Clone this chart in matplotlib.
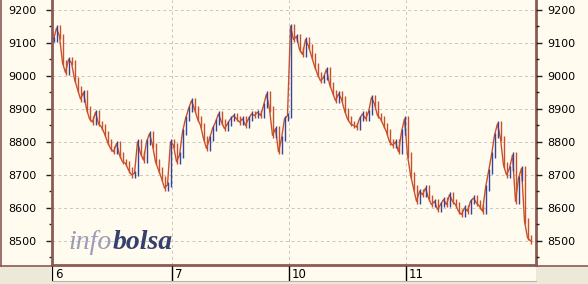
import numpy as np
import matplotlib.pyplot as plt
from matplotlib.patches import Rectangle

# closing prices, one list per session
day6 = [9110, 9145, 9120, 9040, 9010, 9050, 9040, 8990, 8960, 8930,
        8950, 8900, 8870, 8860, 8890, 8855, 8845, 8825, 8800, 8780,
        8770, 8795, 8760, 8740, 8735, 8715, 8700, 8705, 8800, 8765,
        8745, 8800, 8825, 8790, 8740, 8715, 8690, 8660, 8670, 8800]
day7 = [8790, 8740, 8760, 8830, 8870, 8900, 8925, 8900, 8870, 8850,
        8810, 8780, 8810, 8840, 8860, 8885, 8860, 8840, 8855, 8870,
        8880, 8870, 8860, 8870, 8850, 8870, 8885, 8880, 8890, 8880,
        8910, 8945, 8900, 8820, 8840, 8770, 8810, 8870, 8880]
day10 = [9150, 9110, 9120, 9080, 9065, 9110, 9090, 9060, 9030, 9005,
         8985, 8995, 9020, 8975, 8950, 8925, 8945, 8930, 8895, 8870,
         8855, 8850, 8845, 8870, 8885, 8870, 8890, 8935, 8915, 8880,
         8870, 8850, 8830, 8800, 8790, 8800, 8770, 8830, 8870]
day11 = [8760, 8700, 8660, 8620, 8650, 8640, 8660, 8630, 8610, 8620,
         8595, 8610, 8625, 8610, 8640, 8620, 8610, 8590, 8580, 8600,
         8590, 8620, 8630, 8615, 8605, 8590, 8660, 8710, 8760, 8820,
         8855, 8810, 8730, 8700, 8720, 8760, 8620, 8690, 8720, 8560,
         8510, 8500]
day_labels = ['6', '7', '10', '11']
y_ticks = [8500, 8600, 8700, 8800, 8900, 9000, 9100, 9200]

days = [day6, day7, day10, day11]
close = np.array(sum(days, []), dtype=float)
x = np.arange(len(close))
day_starts = np.cumsum([0] + [len(d) for d in days[:-1]]) - 0.5

W, H = 588, 284
cream = '#FFFBEF'
grey = '#ECE9D8'
brown = '#8C5A55'
blue = '#3B4394'
red = '#C8512B'

fig = plt.figure(figsize=(W / 100, H / 100), dpi=100, facecolor=grey)

# cream panels (left axis, right axis, date strip)
for (px, py, pw, ph) in [(0, 0, 52, 266), (536, 0, 52, 266), (52, 266, 484, 15)]:
    fig.patches.append(Rectangle((px / W, 1 - (py + ph) / H), pw / W, ph / H,
                                 transform=fig.transFigure, facecolor=cream,
                                 edgecolor='none', zorder=-5))
# panel borders
fig.add_artist(plt.Line2D([1.5 / W, 1.5 / W], [1 - 266 / H, 1], color=brown, lw=1.2))
fig.add_artist(plt.Line2D([0, 52 / W], [1 - 266 / H, 1 - 266 / H], color=brown, lw=1.2))
fig.add_artist(plt.Line2D([536 / W, 1], [1 - 266 / H, 1 - 266 / H], color=brown, lw=1.2))
fig.add_artist(plt.Line2D([52 / W, 536 / W], [1 - 281 / H, 1 - 281 / H], color='#B8B4A8', lw=0.8))

ax = fig.add_axes([52 / W, 1 - 265 / H, 484 / W, 265 / H])
ax.set_facecolor(cream)
ax.set_xlim(-0.5, 484 / 3 - 0.5)
ax.set_ylim(8427, 9230)

# grid
for yv in y_ticks:
    ax.axhline(yv, color='#C9C6BE', lw=0.7, ls=(0, (3, 3)), zorder=1)
for xs in day_starts[1:]:
    ax.axvline(xs, color='#C9C6BE', lw=0.7, ls=(0, (3, 3)), zorder=1)

# price path plus small bars from previous close, coloured by direction
ax.plot(x, close, color=red, lw=1.0, zorder=2)
prev = np.r_[close[0], close[:-1]]
up = close >= prev
ax.vlines(x[up] + 0.3, prev[up] - 8, close[up] + 8, color=blue, lw=1.0, zorder=3)
ax.vlines(x[~up] + 0.3, close[~up] - 8, prev[~up] + 8, color=red, lw=1.0, zorder=3)

for side in ['left', 'bottom', 'right']:
    ax.spines[side].set_color(brown)
    ax.spines[side].set_linewidth(2)
ax.spines['top'].set_visible(False)
ax.set_xticks([])
ax.set_yticks(y_ticks)
ax.set_yticks([v + 50 for v in y_ticks[:-1]] + [8450], minor=True)
ax.tick_params(axis='y', which='major', length=4, width=1, color='#222222',
               labelsize=8, pad=7)
ax.tick_params(axis='y', which='minor', length=2, width=1, color='#222222')

ax2 = ax.twinx()
ax2.set_ylim(ax.get_ylim())
ax2.set_yticks(y_ticks)
ax2.set_yticks([v + 50 for v in y_ticks[:-1]] + [8450], minor=True)
ax2.tick_params(axis='y', which='major', length=4, width=1, color='#222222',
                labelsize=8, pad=4)
ax2.tick_params(axis='y', which='minor', length=2, width=1, color='#222222')
for s in ax2.spines.values():
    s.set_visible(False)

# watermark
t1 = ax.text(0.035, 0.06, 'info', transform=ax.transAxes, fontsize=20,
             family='Liberation Serif', style='italic', color='#9C9CB8', zorder=4)
ax.annotate('bolsa', xy=(1, 0), xycoords=t1, va='bottom', fontsize=20,
            family='Liberation Serif', style='italic', weight='bold',
            color='#36406E', zorder=4)

# date strip
axs = fig.add_axes([52 / W, 1 - 281 / H, 484 / W, 15 / H])
axs.set_xlim(ax.get_xlim())
axs.set_ylim(0, 1)
axs.axis('off')
for xs, lab in zip(day_starts, day_labels):
    axs.vlines(xs, 0, 1, color='black', lw=1.6 if xs < 0 else 1.0)
    axs.text(xs + 0.9, 0.45, lab, fontsize=8.5, va='center', ha='left', color='black')

fig.savefig('out.png', dpi=100, facecolor=grey)
